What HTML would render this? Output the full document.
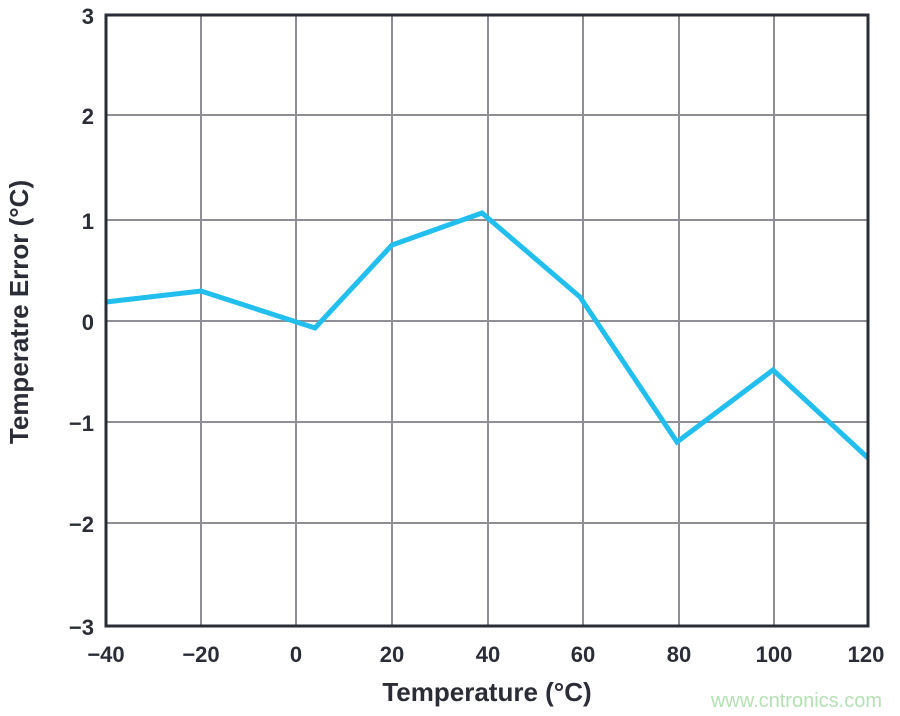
<!DOCTYPE html>
<html><head><style>body{margin:0;background:#fff}svg{display:block}</style></head><body>
<svg width="900" height="716" xmlns="http://www.w3.org/2000/svg" font-family="Liberation Sans, sans-serif" font-weight="bold" fill="#2b2d36">
<g stroke="#8e8e94" stroke-width="2">
<line x1="201" y1="15" x2="201" y2="626"/><line x1="296" y1="15" x2="296" y2="626"/><line x1="392" y1="15" x2="392" y2="626"/><line x1="488" y1="15" x2="488" y2="626"/><line x1="583" y1="15" x2="583" y2="626"/><line x1="679" y1="15" x2="679" y2="626"/><line x1="774" y1="15" x2="774" y2="626"/>
<line x1="106" y1="115" x2="868" y2="115"/><line x1="106" y1="220" x2="868" y2="220"/><line x1="106" y1="321" x2="868" y2="321"/><line x1="106" y1="422" x2="868" y2="422"/><line x1="106" y1="523" x2="868" y2="523"/>
</g>
<polyline points="106,302 201,291 315,328 392,245 482,213 580,297 677,442 773,370 868,458" fill="none" stroke="#22bfee" stroke-width="5" stroke-linejoin="miter"/>
<rect x="106" y="15" width="762" height="611" fill="none" stroke="#2b2d36" stroke-width="3"/>
<g font-size="22" text-anchor="end">
<text x="94" y="24">3</text><text x="94" y="124">2</text><text x="94" y="229">1</text><text x="94" y="330">0</text><text x="94" y="431">−1</text><text x="94" y="532">−2</text><text x="94" y="635">−3</text>
</g>
<g font-size="22" text-anchor="middle">
<text x="106" y="662">−40</text><text x="201" y="662">−20</text><text x="296" y="662">0</text><text x="392" y="662">20</text><text x="488" y="662">40</text><text x="583" y="662">60</text><text x="679" y="662">80</text><text x="774" y="662">100</text><text x="866" y="662">120</text>
</g>
<text x="487" y="701" font-size="26" text-anchor="middle">Temperature (°C)</text>
<text transform="translate(28,312) rotate(-90)" font-size="26" text-anchor="middle">Temperatre Error (°C)</text>
<text x="882" y="707" font-size="20" font-weight="normal" fill="#b5e0b5" text-anchor="end">www.cntronics.com</text>
</svg>
</body></html>
